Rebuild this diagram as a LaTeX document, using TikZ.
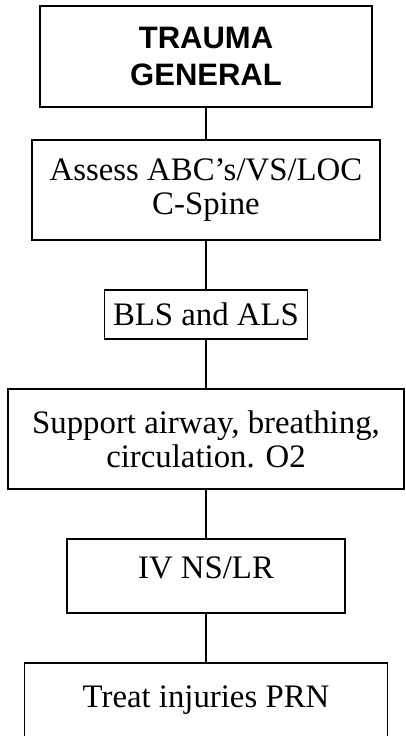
\documentclass[tikz,border=0pt]{standalone}
\usepackage{fontspec}
\setmainfont{Liberation Serif}
\newfontfamily\headfont{Liberation Sans}
\usetikzlibrary{positioning}

\begin{document}
\begin{tikzpicture}[
  x=1pt, y=1pt,
  stepbox/.style={
    draw=black,
    line width=1.3pt,
    font=\fontsize{32.8}{34}\selectfont,
    align=center,
    inner sep=0pt,
    outer sep=0pt,
  },
  titlebox/.style={
    stepbox,
    font=\headfont\bfseries\fontsize{31}{36.5}\selectfont,
  },
  link/.style={line width=1.2pt},
  heavylink/.style={line width=2.4pt},
]
  \useasboundingbox (0,0) rectangle (406,-736);
  \clip (0,0) rectangle (406,-736);

  \node[titlebox, minimum width=332pt, minimum height=101pt] (trauma) at (206,-56.5) {TRAUMA\\GENERAL};
  \node[stepbox, minimum width=348pt, minimum height=100pt, below=33pt of trauma] (assess) {Assess ABC’s/VS/LOC\\C-Spine};
  \node[stepbox, minimum width=203pt, minimum height=49pt, below=50pt of assess] (bls) {BLS and ALS};
  \node[stepbox, minimum width=396pt, minimum height=100pt, below=50pt of bls] (support) {Support airway, breathing,\\circulation. O2};
  \node[stepbox, minimum width=278pt, minimum height=74pt, text depth=16pt, below=50pt of support] (iv) {IV NS/LR};
  \node[stepbox, minimum width=363pt, minimum height=102pt, below=50pt of iv] (treat) {Treat injuries PRN\\\mbox{}};

  \draw[link] (trauma) -- (assess);
  \draw[link] (assess) -- (bls);
  \draw[link] (bls) -- (support);
  \draw[link] (support) -- (iv);
  \draw[heavylink] (iv) -- (treat);
\end{tikzpicture}
\end{document}
